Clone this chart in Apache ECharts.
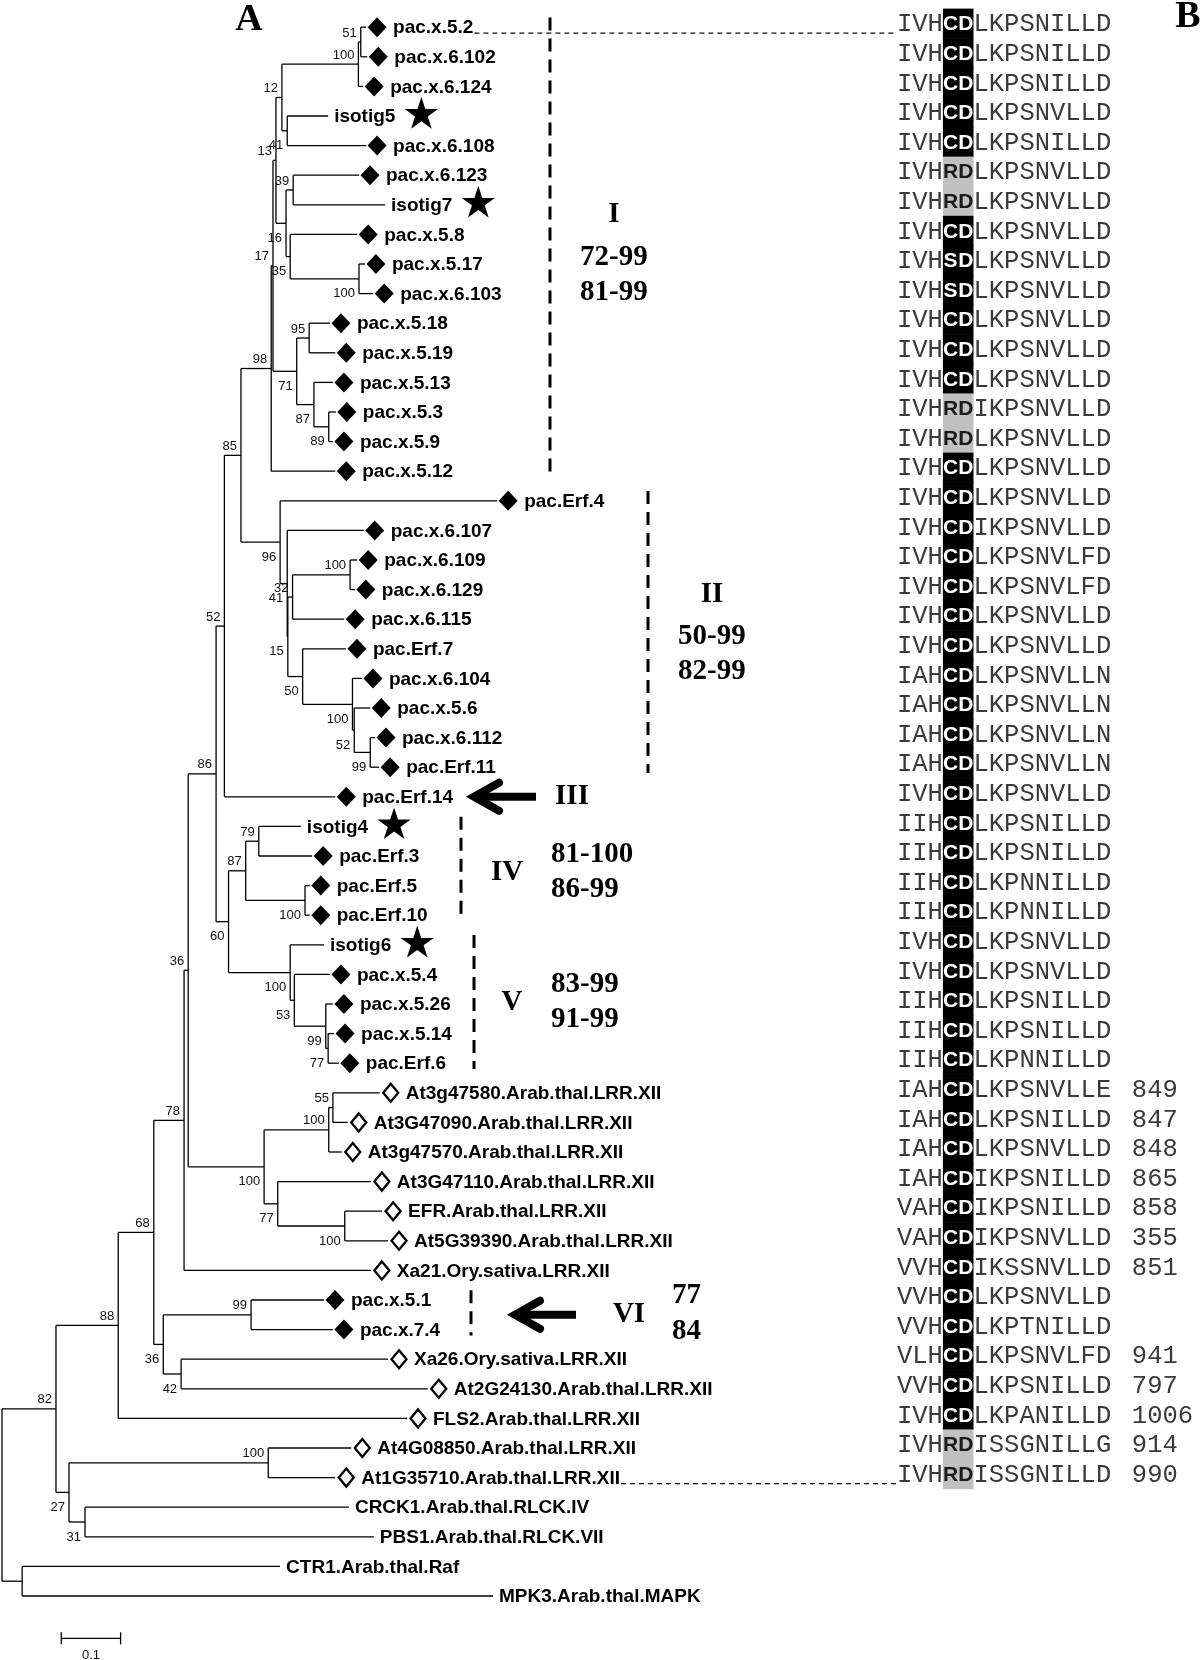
<!DOCTYPE html>
<html><head><meta charset="utf-8">
<script src="https://cdn.jsdelivr.net/npm/echarts@6/dist/echarts.min.js"></script>
<style>html,body{margin:0;padding:0;background:#fff}#c{width:1200px;height:1660px}</style>
</head><body><div id="c"></div>
<script>
// ---------------- DATA ----------------
const leafNames = ['pac.x.5.2','pac.x.6.102','pac.x.6.124','isotig5','pac.x.6.108','pac.x.6.123','isotig7','pac.x.5.8','pac.x.5.17','pac.x.6.103',
'pac.x.5.18','pac.x.5.19','pac.x.5.13','pac.x.5.3','pac.x.5.9','pac.x.5.12','pac.Erf.4','pac.x.6.107','pac.x.6.109','pac.x.6.129',
'pac.x.6.115','pac.Erf.7','pac.x.6.104','pac.x.5.6','pac.x.6.112','pac.Erf.11','pac.Erf.14','isotig4','pac.Erf.3','pac.Erf.5',
'pac.Erf.10','isotig6','pac.x.5.4','pac.x.5.26','pac.x.5.14','pac.Erf.6','At3g47580.Arab.thal.LRR.XII','At3G47090.Arab.thal.LRR.XII','At3g47570.Arab.thal.LRR.XII','At3G47110.Arab.thal.LRR.XII',
'EFR.Arab.thal.LRR.XII','At5G39390.Arab.thal.LRR.XII','Xa21.Ory.sativa.LRR.XII','pac.x.5.1','pac.x.7.4','Xa26.Ory.sativa.LRR.XII','At2G24130.Arab.thal.LRR.XII','FLS2.Arab.thal.LRR.XII','At4G08850.Arab.thal.LRR.XII','At1G35710.Arab.thal.LRR.XII',
'CRCK1.Arab.thal.RLCK.IV','PBS1.Arab.thal.RLCK.VII','CTR1.Arab.thal.Raf','MPK3.Arab.thal.MAPK'];
// P = P. cactorum kinase (filled diamond), I = isotig (star), R = reference LRR XII (open diamond), O = outgroup
const leafGroup = ['P','P','P','I','P','P','I','P','P','P',
'P','P','P','P','P','P','P','P','P','P',
'P','P','P','P','P','P','P','I','P','P',
'P','I','P','P','P','P','R','R','R','R',
'R','R','R','P','P','R','R','R','R','R',
'O','O','O','O'];
// distance of each leaf tip from the root (substitutions/site)
const leafDepth = [0.614,0.616,0.609,0.550,0.614,0.602,0.646,0.599,0.612,0.626,
0.553,0.562,0.558,0.563,0.558,0.562,0.835,0.610,0.599,0.595,
0.577,0.580,0.607,0.621,0.629,0.636,0.562,0.504,0.523,0.519,
0.519,0.543,0.553,0.558,0.560,0.568,0.637,0.583,0.573,0.622,
0.641,0.651,0.622,0.543,0.558,0.651,0.718,0.683,0.589,0.562,
0.585,0.627,0.469,0.828];

const nodeNames = ['root','nCM','n82','n27','n31','n100d','n88','n68','n78','n36a','n36b','n99','n42','nAt','n100b','n55','n77','n100c',
'n86','n52','n85','n98','n17','n13','n12','n100a','n51','n41','n16','n39','n35','n100g','n71','n95','n87b','n89',
'n96','n41b','n15','n32','n100h','n50','n100i','n52c','n99c','n60','n87','n79','n100f','n100e','n53','n99b','n77b'];
const nodeKids = [['n82','nCM'],[52,53],['n88','n27'],['n100d','n31'],[50,51],[48,49],['n68',47],['n78','n36b'],['n36a',42],['n86','nAt'],['n99','n42'],[43,44],[45,46],['n100b','n77'],['n55',38],[36,37],[39,'n100c'],[40,41],
['n52','n60'],['n85',26],['n98','n96'],['n17',15],['n13','n71'],['n12','n16'],['n100a','n41'],['n51',2],[0,1],[3,4],['n39','n35'],[5,6],[7,'n100g'],[8,9],['n95','n87b'],[10,11],[12,'n89'],[13,14],
[16,'n41b'],[17,'n15'],['n32','n50'],['n100h',20],[18,19],[21,'n100i'],[22,'n52c'],[23,'n99c'],[24,25],['n87','n100e'],['n79','n100f'],[27,28],[29,30],[31,'n53'],[32,'n99b'],[33,'n77b'],[34,35]];
const nodeDepth = [0,0.034,0.091,0.113,0.140,0.449,0.196,0.256,0.307,0.314,0.272,0.420,0.302,0.442,0.551,0.558,0.465,0.578,
0.361,0.375,0.403,0.454,0.457,0.462,0.472,0.601,0.605,0.481,0.479,0.491,0.486,0.602,0.497,0.518,0.526,0.551,
0.469,0.481,0.482,0.490,0.587,0.507,0.591,0.594,0.621,0.382,0.411,0.433,0.511,0.486,0.493,0.546,0.550];
const nodeBoot = [null,null,82,27,31,100,88,68,78,36,36,99,42,100,100,55,77,100,
86,52,85,98,17,13,12,100,51,41,16,39,35,100,71,95,87,89,
96,41,15,32,100,50,100,52,99,60,87,79,100,100,53,99,77];

const alignSeqs = ['IVHCDLKPSNILLD','IVHCDLKPSNILLD','IVHCDLKPSNILLD','IVHCDLKPSNVLLD','IVHCDLKPSNILLD',
'IVHRDLKPSNVLLD','IVHRDLKPSNVLLD','IVHCDLKPSNVLLD','IVHSDLKPSNVLLD','IVHSDLKPSNVLLD',
'IVHCDLKPSNVLLD','IVHCDLKPSNVLLD','IVHCDLKPSNVLLD','IVHRDIKPSNVLLD','IVHRDLKPSNVLLD',
'IVHCDLKPSNVLLD','IVHCDLKPSNVLLD','IVHCDIKPSNVLLD','IVHCDLKPSNVLFD','IVHCDLKPSNVLFD',
'IVHCDLKPSNVLLD','IVHCDLKPSNVLLD','IAHCDLKPSNVLLN','IAHCDLKPSNVLLN','IAHCDLKPSNVLLN',
'IAHCDLKPSNVLLN','IVHCDLKPSNVLLD','IIHCDLKPSNILLD','IIHCDLKPSNILLD','IIHCDLKPNNILLD',
'IIHCDLKPNNILLD','IVHCDLKPSNVLLD','IVHCDLKPSNVLLD','IIHCDLKPSNILLD','IIHCDLKPSNILLD',
'IIHCDLKPNNILLD','IAHCDLKPSNVLLE','IAHCDLKPSNILLD','IAHCDLKPSNVLLD','IAHCDIKPSNILLD',
'VAHCDIKPSNILLD','VAHCDIKPSNVLLD','VVHCDIKSSNVLLD','VVHCDLKPSNVLLD','VVHCDLKPTNILLD',
'VLHCDLKPSNVLFD','VVHCDLKPSNILLD','IVHCDLKPANILLD','IVHRDISSGNILLG','IVHRDISSGNILLD'];
const alignEnd = ['','','','','','','','','','','','','','','','','','','','','','','','','','','','','','','','','','','','',
'849','847','848','865','858','355','851','','','941','797','1006','914','990'];

const cladeNames = ['I','II','III','IV','V','VI'];
const cladeRows = [[0,15],[16,25],[26,26],[27,30],[31,35],[43,44]];
const cladeSupport = [['72-99','81-99'],['50-99','82-99'],[],['81-100','86-99'],['83-99','91-99'],['77','84']];
const leaderRows = [0,49];
const scaleLength = 0.1, scaleLabel = '0.1';

// ---------------- LAYOUT (styling only) ----------------
const bootBelow = ['n27','n31','n42','n36b','n77','n100c','nAt','n60','n100e','n53','n99b','n77b','n100f','n15','n50','n100i','n52c','n99c','n41b','n96','n71','n87b','n89','n41','n16','n35','n100g'];
const cladeLayout = [
  {bar:548, roman:612, romanDy:-1.16, sup:578, supDy:[0.29,1.48]},
  {bar:646, roman:710, romanDy:-1.32, sup:676, supDy:[0.09,1.28]},
  {arrow:[470,534], roman:570, romanDy:0, sup:0, supDy:[]},
  {bar:459, roman:505, romanDy:0.06, sup:549, supDy:[-0.54,0.64]},
  {bar:472, roman:510, romanDy:-0.04, sup:549, supDy:[-0.65,0.53]},
  {bar:469, arrow:[511,574], roman:627, romanDy:0, sup:670, supDy:[-0.64,0.55]}
];
const SCALE_POS = {start:0.1, row:54.43, labelRow:55.0};
const F_LEAF = 'bold 19px "Liberation Sans", Arial, sans-serif';
const F_BOOT = '13px "Liberation Sans", Arial, sans-serif';
const F_PAIR = 'bold 21px "Liberation Sans", Arial, sans-serif';
const F_CLADE = 'bold 29px "Liberation Serif", "Times New Roman", serif';
const F_PANEL = 'bold 38px "Liberation Serif", "Times New Roman", serif';
const ROW_PX = 29.6;

// ---------------- BUILD ----------------
const measCtx = document.createElement('canvas').getContext('2d');
function textW(s, font){ measCtx.font = font; return measCtx.measureText(s).width; }
const nodeIndex = {}; nodeNames.forEach((n,i)=>nodeIndex[n]=i);
const yCache = [];
function kidY(k){ return typeof k === 'number' ? k : nodeY(nodeIndex[k]); }
function kidX(k){ return typeof k === 'number' ? leafDepth[k] : nodeDepth[nodeIndex[k]]; }
function nodeY(i){ if (yCache[i] != null) return yCache[i]; const ks = nodeKids[i]; const y = (kidY(ks[0]) + kidY(ks[ks.length-1]))/2; yCache[i] = y; return y; }

const branchData = [];
const bootData = [];
nodeNames.forEach((n,i)=>{
  const d = nodeDepth[i], ks = nodeKids[i];
  branchData.push([d, d, kidY(ks[0]), kidY(ks[ks.length-1])]);
  ks.forEach(k=>{ const y = kidY(k); branchData.push([d, kidX(k), y, y]); });
  if (nodeBoot[i] != null) bootData.push([d, nodeY(i), nodeBoot[i], bootBelow.indexOf(n) >= 0 ? 1 : 0]);
});
const leafData = leafNames.map((n,r)=>[leafDepth[r], r, r]);
const alignData = alignSeqs.map((s,r)=>[0, r, r]);
const cladeData = cladeNames.map((c,i)=>[i, cladeRows[i][0], cladeRows[i][1]]);

function labelStart(g){ return g === 'P' ? 27 : g === 'R' ? 26 : 6; }
function starPts(cx, cy, R){ const pts=[]; for (let k=0;k<10;k++){ const a=-Math.PI/2+k*Math.PI/5; const rr=k%2===0?R:R*0.382; pts.push([cx+rr*Math.cos(a), cy+rr*Math.sin(a)]); } return pts; }

function buildOption(seqStartTree){
  const series = [
  { type:'custom', xAxisIndex:0, yAxisIndex:0, data:branchData, silent:true,
    renderItem(p, api){
      const a = api.coord([api.value(0), api.value(2)]), b = api.coord([api.value(1), api.value(3)]);
      return {type:'line', shape:{x1:a[0],y1:a[1],x2:b[0],y2:b[1]}, style:{stroke:'#000', lineWidth:1.3}};
    }},
  { type:'custom', xAxisIndex:0, yAxisIndex:0, data:bootData, silent:true,
    renderItem(p, api){
      const c = api.coord([api.value(0), api.value(1)]);
      const below = api.value(3) === 1;
      return {type:'text', x:c[0]-4, y:c[1] + (below ? 15 : -9),
        style:{text:String(api.value(2)), font:F_BOOT, fill:'#111', align:'right', verticalAlign:'middle'}};
    }},
  { type:'custom', xAxisIndex:0, yAxisIndex:0, data:leafData, silent:true,
    renderItem(p, api){
      const r = api.value(2), g = leafGroup[r];
      const c = api.coord([api.value(0), api.value(1)]);
      const kids = [];
      const cx = c[0] + 11, cy = c[1];
      if (g === 'P') kids.push({type:'polygon', shape:{points:[[cx,cy-10],[cx+9.5,cy],[cx,cy+10],[cx-9.5,cy]]}, style:{fill:'#000'}});
      if (g === 'R') kids.push({type:'polygon', shape:{points:[[cx,cy-9],[cx+7.5,cy],[cx,cy+9],[cx-7.5,cy]]}, style:{fill:'#fff', stroke:'#000', lineWidth:2.3}});
      const lx = c[0] + labelStart(g);
      kids.push({type:'text', x:lx, y:c[1]+1, style:{text:leafNames[r], font:F_LEAF, fill:'#000', align:'left', verticalAlign:'middle'}});
      if (g === 'I') {
        const sx = lx + textW(leafNames[r], F_LEAF) + 26;
        kids.push({type:'polygon', shape:{points:starPts(sx, c[1]-1.5, 17.5)}, style:{fill:'#000'}});
      }
      return {type:'group', children:kids};
    }},
  { type:'custom', xAxisIndex:0, yAxisIndex:0, data:cladeData, silent:true,
    renderItem(p, api){
      const ci = api.value(0), r0 = api.value(1), r1 = api.value(2);
      const L = cladeLayout[ci];
      const x0 = api.coord([0, r0])[0];
      const yOf = r => api.coord([0, r])[1];
      const mid = (r0 + r1)/2;
      const kids = [];
      if (L.bar != null) kids.push({type:'line', shape:{x1:x0+L.bar, y1:yOf(r0-0.33), x2:x0+L.bar, y2:yOf(r1+0.2)}, style:{stroke:'#000', lineWidth:3, lineDash:[13,8]}});
      if (L.arrow) {
        const ty = yOf(mid), tip = x0 + L.arrow[0], tail = x0 + L.arrow[1];
        kids.push({type:'line', shape:{x1:tip+4, y1:ty, x2:tail, y2:ty}, style:{stroke:'#000', lineWidth:8}});
        kids.push({type:'polyline', shape:{points:[[tip+27,ty-14],[tip+2,ty],[tip+27,ty+14]]}, style:{stroke:'#000', lineWidth:8, fill:null, lineJoin:'miter', lineCap:'round'}});
      }
      kids.push({type:'text', x:x0+L.roman, y:yOf(mid+L.romanDy), style:{text:cladeNames[ci], font:F_CLADE, fill:'#000', align:'center', verticalAlign:'middle'}});
      cladeSupport[ci].forEach((s,k)=>{
        kids.push({type:'text', x:x0+L.sup, y:yOf(mid+L.supDy[k]), style:{text:s, font:F_CLADE, fill:'#000', align:'left', verticalAlign:'middle'}});
      });
      return {type:'group', children:kids};
    }},
  { type:'custom', xAxisIndex:0, yAxisIndex:0, data:[[SCALE_POS.start, SCALE_POS.row, scaleLength]], silent:true,
    renderItem(p, api){
      const a = api.coord([api.value(0), api.value(1)]), b = api.coord([api.value(0)+api.value(2), api.value(1)]);
      const lab = api.coord([api.value(0)+api.value(2)/2, SCALE_POS.labelRow]);
      return {type:'group', children:[
        {type:'line', shape:{x1:a[0],y1:a[1],x2:b[0],y2:b[1]}, style:{stroke:'#000', lineWidth:1.3}},
        {type:'line', shape:{x1:a[0],y1:a[1]-6,x2:a[0],y2:a[1]+6}, style:{stroke:'#000', lineWidth:1.3}},
        {type:'line', shape:{x1:b[0],y1:b[1]-6,x2:b[0],y2:b[1]+6}, style:{stroke:'#000', lineWidth:1.3}},
        {type:'text', x:lab[0], y:lab[1], style:{text:scaleLabel, font:F_BOOT, fill:'#111', align:'center', verticalAlign:'middle'}}
      ]};
    }},
  { type:'custom', xAxisIndex:1, yAxisIndex:1, data:alignData, silent:true,
    renderItem(p, api){
      const r = api.value(2), s = alignSeqs[r];
      const c = api.coord([0, r]);
      const cw = api.size([1, 0])[0], rh = api.size([0, 1])[1];
      const pair = s.slice(3,5);
      const gray = pair === 'RD';
      const monoFont = (cw/0.6).toFixed(2) + 'px "Liberation Mono", "Courier New", monospace';
      const kids = [
        {type:'rect', shape:{x:c[0]+3*cw, y:c[1]-rh/2-0.3, width:2*cw, height:rh+0.6}, style:{fill: gray ? '#c0c0c0' : '#000'}},
        {type:'text', x:c[0], y:c[1]+1, style:{text:s.slice(0,3), font:monoFont, fill:'#3a3a3a', align:'left', verticalAlign:'middle'}},
        {type:'text', x:c[0]+5*cw, y:c[1]+1, style:{text:s.slice(5), font:monoFont, fill:'#3a3a3a', align:'left', verticalAlign:'middle'}}
      ];
      for (let k=0;k<2;k++) kids.push({type:'text', x:c[0]+(3.5+k)*cw, y:c[1]+1, style:{text:pair[k], font:F_PAIR, fill: gray ? '#1a1a1a' : '#fff', align:'center', verticalAlign:'middle'}});
      if (alignEnd[r]) kids.push({type:'text', x:c[0]+15.35*cw, y:c[1]+1, style:{text:alignEnd[r], font:monoFont, fill:'#3a3a3a', align:'left', verticalAlign:'middle'}});
      return {type:'group', children:kids};
    }}
  ];
  if (seqStartTree != null) {
    series.push({ type:'custom', xAxisIndex:0, yAxisIndex:0, data:leaderRows.map(r=>[seqStartTree, r, r]), silent:true,
      renderItem(p, api){
        const r = api.value(2);
        const tip = api.coord([leafDepth[r], r]);
        const x1 = tip[0] + labelStart(leafGroup[r]) + textW(leafNames[r], F_LEAF) + 1;
        const e = api.coord([api.value(0), r]);
        return {type:'line', shape:{x1:x1, y1:tip[1]+6, x2:e[0], y2:tip[1]+6}, style:{stroke:'#111', lineWidth:1.2, lineDash:[5,4]}};
      }});
  }
  return {
    animation:false,
    backgroundColor:'#fff',
    grid:[{left:2, top:27.2-0.5*ROW_PX, width:1186, height:55*ROW_PX},{left:897, top:23.7-0.5*ROW_PX, width:300, height:55*ROW_PX}],
    xAxis:[{gridIndex:0, type:'value', min:0, max:2, show:false},{gridIndex:1, type:'value', min:0, max:300/15.3, show:false}],
    yAxis:[{gridIndex:0, type:'value', min:-0.5, max:54.5, inverse:true, show:false},{gridIndex:1, type:'value', min:-0.5, max:54.5, inverse:true, show:false}],
    graphic:[
      {type:'text', x:249, y:20, style:{text:'A', font:F_PANEL, fill:'#000', align:'center', verticalAlign:'middle'}},
      {type:'text', x:1188, y:17, style:{text:'B', font:F_PANEL, fill:'#000', align:'center', verticalAlign:'middle'}}
    ],
    series:series
  };
}

const chart = echarts.init(document.getElementById('c'), null, {renderer:'canvas', width:1200, height:1660});
chart.setOption(buildOption(null));
const seqPx = chart.convertToPixel({xAxisIndex:1, yAxisIndex:1}, [0, 0]);
const seqStartTree = chart.convertFromPixel({xAxisIndex:0, yAxisIndex:0}, seqPx)[0];
chart.setOption(buildOption(seqStartTree), true);
</script>
</body></html>
